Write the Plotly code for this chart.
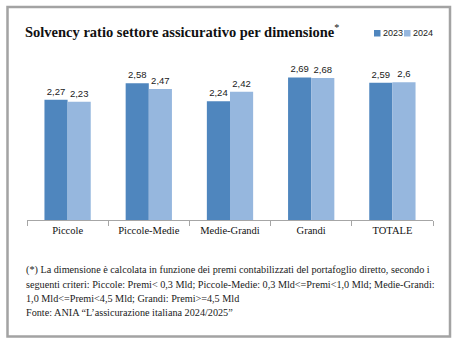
import plotly.graph_objects as go

# Data
categories = ["Piccole", "Piccole-Medie", "Medie-Grandi", "Grandi", "TOTALE"]
ratio_2023 = [2.27, 2.58, 2.24, 2.69, 2.59]
ratio_2024 = [2.23, 2.47, 2.42, 2.68, 2.60]
series_names = ["2023", "2024"]

title_text = "<b>Solvency ratio settore assicurativo per dimensione</b><sup>*</sup>"
note_lines = [
    "(*) La dimensione è calcolata in funzione dei premi contabilizzati del portafoglio diretto, secondo i",
    "seguenti criteri: Piccole: Premi&lt; 0,3 Mld; Piccole-Medie: 0,3 Mld&lt;=Premi&lt;1,0 Mld; Medie-Grandi:",
    "1,0 Mld&lt;=Premi&lt;4,5 Mld; Grandi: Premi&gt;=4,5 Mld",
    "Fonte: ANIA “L’assicurazione italiana 2024/2025”",
]

# Canvas and plot-area geometry (pixels)
W, H = 463, 339
ML, MR, MT, MB = 27, 30, 61, 119
PW, PH = W - ML - MR, H - MT - MB

def px_x(x):
    return (x - ML) / PW

def px_y(y):
    return (H - MB - y) / PH

dark = "#4f86be"
light = "#96b7de"
serif = "Liberation Serif, Times New Roman, serif"
sans = "Liberation Sans, Arial, sans-serif"

fig = go.Figure()
for name, vals, col in [(series_names[0], ratio_2023, dark), (series_names[1], ratio_2024, light)]:
    fig.add_trace(go.Bar(
        x=categories, y=vals, name=name, marker=dict(color=col, line=dict(width=0)),
        texttemplate="%{y}", textposition="outside", cliponaxis=False,
        textfont=dict(family=sans, size=9.5, color="#1a1a1a"),
        showlegend=False,
    ))

shapes = [
    # outer frame
    dict(type="rect", xref="paper", yref="paper",
         x0=px_x(7.5), x1=px_x(450), y0=px_y(7), y1=px_y(336.5),
         line=dict(color="#a3a3a3", width=2.5), fillcolor="rgba(0,0,0,0)", layer="below"),
    # legend swatches
    dict(type="rect", xref="paper", yref="paper",
         x0=px_x(374), x1=px_x(380.5), y0=px_y(30), y1=px_y(36.5),
         line=dict(width=0), fillcolor=dark),
    dict(type="rect", xref="paper", yref="paper",
         x0=px_x(404), x1=px_x(410.5), y0=px_y(30), y1=px_y(36.5),
         line=dict(width=0), fillcolor=light),
]

annotations = [
    dict(text=title_text, xref="paper", yref="paper", x=px_x(23), y=px_y(31),
         xanchor="left", yanchor="middle", showarrow=False,
         font=dict(family=serif, size=14.5, color="#111111")),
    dict(text=series_names[0], xref="paper", yref="paper", x=px_x(380.5), y=px_y(33.5),
         xanchor="left", yanchor="middle", showarrow=False,
         font=dict(family=sans, size=9, color="#1a1a1a")),
    dict(text=series_names[1], xref="paper", yref="paper", x=px_x(410.5), y=px_y(33.5),
         xanchor="left", yanchor="middle", showarrow=False,
         font=dict(family=sans, size=9, color="#1a1a1a")),
]
for i, line in enumerate(note_lines):
    annotations.append(dict(
        text=line, xref="paper", yref="paper", x=px_x(24), y=px_y(270 + 14 * i),
        xanchor="left", yanchor="middle", showarrow=False,
        font=dict(family=serif, size=10.2, color="#1a1a1a")))

fig.update_layout(
    width=W, height=H,
    margin=dict(l=ML, r=MR, t=MT, b=MB, pad=0),
    paper_bgcolor="white", plot_bgcolor="white",
    barmode="group", bargap=0.43, bargroupgap=0,
    separators=",.",
    shapes=shapes, annotations=annotations,
    xaxis=dict(showline=True, linecolor="#a6a6a6", linewidth=1,
               ticks="outside", tickson="boundaries", ticklen=5, tickcolor="#a6a6a6",
               tickfont=dict(family=serif, size=10.5, color="#111111"),
               showgrid=False, zeroline=False, fixedrange=True),
    yaxis=dict(range=[0, 3], visible=False, showgrid=False, zeroline=False),
)

fig.write_html("out.html", config={"displayModeBar": False})
